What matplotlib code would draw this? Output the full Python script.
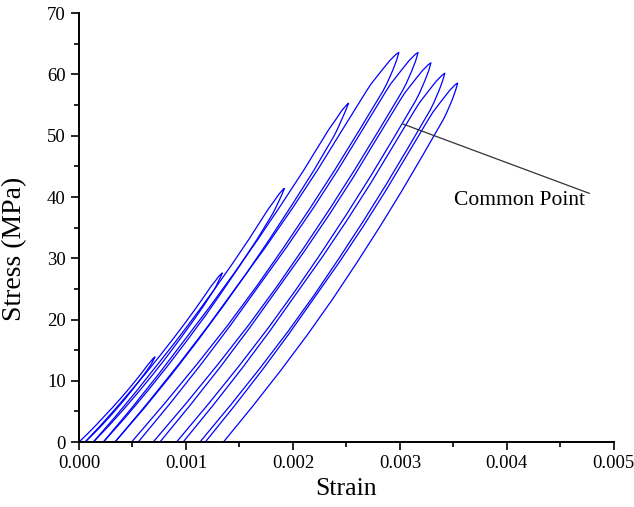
import matplotlib.pyplot as plt
import numpy as np
from matplotlib.ticker import MultipleLocator, FormatStrFormatter

plt.rcParams["font.family"] = ["Liberation Serif", "DejaVu Serif"]

# strains below are in units of 1e-3, stress in MPa
# each cycle: stress levels, loading branch strains, unloading branch strains
stress1 = [0, 1.39, 2.78, 4.17, 5.56, 6.95, 8.34, 9.73, 11.12, 12.51, 12.79, 13.26, 13.61, 13.83, 13.9]
load1 = [0, .082, .160, .234, .309, .380, .449, .515, .579, .639, .651, .675, .691, .704, .71]
unload1 = [.056, .138, .215, .288, .358, .426, .490, .552, .612, .667, .677, .692, .702, .708, .71]

stress2 = [0, 2.76, 5.52, 8.28, 11.04, 13.8, 16.56, 19.32, 22.08, 24.84, 25.39, 26.33, 27.02, 27.46, 27.6]
load2 = [.056, .204, .345, .480, .615, .743, .867, .987, 1.102, 1.212, 1.233, 1.276, 1.305, 1.330, 1.34]
unload2 = [.133, .284, .426, .561, .691, .815, .933, 1.048, 1.159, 1.262, 1.280, 1.306, 1.326, 1.336, 1.34]

stress3 = [0, 4.14, 8.28, 12.42, 16.56, 20.7, 24.84, 28.98, 33.12, 37.26, 38.09, 39.5, 40.53, 41.19, 41.4]
load3 = [.133, .339, .535, .723, .910, 1.089, 1.262, 1.429, 1.589, 1.741, 1.772, 1.831, 1.872, 1.906, 1.92]
unload3 = [.227, .439, .638, .828, 1.009, 1.184, 1.349, 1.510, 1.666, 1.810, 1.835, 1.873, 1.900, 1.915, 1.92]

stress4 = [0, 5.53, 11.06, 16.59, 22.12, 27.65, 33.18, 38.71, 44.24, 49.77, 50.88, 52.76, 54.14, 55.02, 55.3]
load4 = [.227, .491, .743, .984, 1.224, 1.454, 1.676, 1.889, 2.096, 2.291, 2.330, 2.405, 2.458, 2.502, 2.52]
unload4 = [.336, .609, .867, 1.111, 1.345, 1.570, 1.784, 1.991, 2.192, 2.378, 2.411, 2.459, 2.494, 2.513, 2.52]

stress5 = [0, 6.36, 12.72, 19.08, 25.44, 31.8, 38.16, 44.52, 50.88, 57.24, 58.51, 60.67, 62.26, 63.28, 63.6]
load5 = [.336, .641, .933, 1.212, 1.477, 1.743, 1.995, 2.234, 2.459, 2.685, 2.733, 2.831, 2.905, 2.963, 2.99]
unload5 = [.491, .803, 1.103, 1.391, 1.661, 1.915, 2.160, 2.395, 2.620, 2.840, 2.878, 2.933, 2.968, 2.985, 2.99]

stress6 = [0, 6.36, 12.72, 19.08, 25.44, 31.8, 38.16, 44.52, 50.88, 57.24, 58.51, 60.67, 62.26, 63.28, 63.6]
load6 = [.553, .854, 1.142, 1.417, 1.678, 1.940, 2.189, 2.424, 2.647, 2.869, 2.916, 3.013, 3.086, 3.144, 3.17]
unload6 = [.693, 1.003, 1.300, 1.585, 1.852, 2.105, 2.348, 2.580, 2.803, 3.021, 3.059, 3.113, 3.148, 3.165, 3.17]

stress7 = [0, 6.19, 12.38, 18.57, 24.76, 30.95, 37.14, 43.33, 49.52, 55.71, 56.95, 59.05, 60.6, 61.59, 61.9]
load7 = [.756, 1.047, 1.326, 1.592, 1.846, 2.099, 2.340, 2.568, 2.783, 2.999, 3.044, 3.138, 3.209, 3.265, 3.29]
unload7 = [.911, 1.208, 1.494, 1.767, 2.024, 2.267, 2.500, 2.724, 2.938, 3.147, 3.183, 3.235, 3.269, 3.285, 3.29]

stress8 = [0, 6.02, 12.04, 18.06, 24.08, 30.1, 36.12, 42.14, 48.16, 54.18, 55.38, 57.43, 58.94, 59.9, 60.2]
load8 = [.973, 1.254, 1.524, 1.781, 2.025, 2.270, 2.502, 2.723, 2.931, 3.139, 3.183, 3.273, 3.342, 3.396, 3.42]
unload8 = [1.13, 1.416, 1.691, 1.954, 2.202, 2.435, 2.660, 2.875, 3.081, 3.283, 3.317, 3.367, 3.399, 3.415, 3.42]

stress9 = [0, 5.86, 11.72, 17.58, 23.44, 29.3, 35.16, 41.02, 46.88, 52.74, 53.91, 55.9, 57.37, 58.31, 58.6]
load9 = [1.18, 1.451, 1.711, 1.959, 2.195, 2.431, 2.655, 2.867, 3.068, 3.269, 3.311, 3.398, 3.464, 3.516, 3.54]
unload9 = [1.35, 1.624, 1.887, 2.138, 2.375, 2.598, 2.813, 3.019, 3.216, 3.409, 3.441, 3.490, 3.520, 3.536, 3.54]

cycles = [
    (stress1, load1, unload1), (stress2, load2, unload2), (stress3, load3, unload3),
    (stress4, load4, unload4), (stress5, load5, unload5), (stress6, load6, unload6),
    (stress7, load7, unload7), (stress8, load8, unload8), (stress9, load9, unload9),
]

# annotation: common point -> label
common_pt = (3.03, 51.9)
label_pt = (4.12, 39.5)
line_end = (4.77, 40.6)

fig = plt.figure(figsize=(6.34, 5.07), dpi=100)
ax = fig.add_axes([0.1246, 0.128, 0.8436, 0.846])

for st, ld, ul in cycles:
    x = np.concatenate([ld, ul[::-1]]) * 1e-3
    y = np.concatenate([st, st[::-1]])
    ax.plot(x, y, color="#0000ff", lw=0.9, solid_joinstyle="round")

ax.plot([common_pt[0] * 1e-3, line_end[0] * 1e-3], [common_pt[1], line_end[1]],
        color="#333333", lw=0.9)
ax.text(label_pt[0] * 1e-3, label_pt[1], "Common Point", fontsize=15.5,
        ha="center", va="center")

ax.set_xlim(0, 0.005)
ax.set_ylim(0, 70)
ax.xaxis.set_major_locator(MultipleLocator(0.001))
ax.xaxis.set_minor_locator(MultipleLocator(0.0005))
ax.xaxis.set_major_formatter(FormatStrFormatter("%.3f"))
ax.yaxis.set_major_locator(MultipleLocator(10))
ax.yaxis.set_minor_locator(MultipleLocator(5))

for s in ["top", "right"]:
    ax.spines[s].set_visible(False)
for s in ["left", "bottom"]:
    ax.spines[s].set_linewidth(1.4)

ax.tick_params(which="major", direction="out", length=6, width=1.2, labelsize=13.5)
ax.tick_params(which="minor", direction="out", length=3.5, width=1.2)
ax.set_xlabel("Strain", fontsize=18.5, labelpad=4)
ax.set_ylabel("Stress (MPa)", fontsize=20, labelpad=5)
ax.yaxis.set_label_coords(-0.097, 0.45)

fig.savefig("out.png", dpi=100)
